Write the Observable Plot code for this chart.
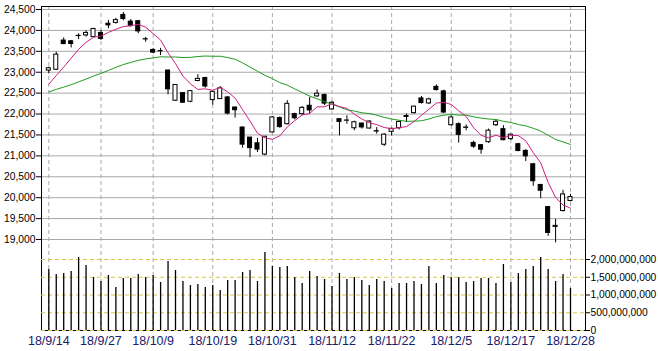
<!DOCTYPE html>
<html><head><meta charset="utf-8">
<script src="https://cdn.jsdelivr.net/npm/d3@7"></script>
<script src="https://cdn.jsdelivr.net/npm/@observablehq/plot@0.6"></script>
<style>
html,body{margin:0;padding:0;background:#fff;}
#wrap{position:relative;width:658px;height:351px;overflow:hidden;}
#wrap svg{position:absolute;left:0;}
#wrap svg text{font-family:'Liberation Sans',Arial,sans-serif;font-size:10.3px;fill:#000;}
#wrap svg [aria-label^="x-axis"] text{font-family:'Liberation Sans',Arial,sans-serif;font-size:12.5px;fill:#17206b;}
</style>
</head><body><div id="wrap"></div>
<script>
const dates = ["18/9/14","18/9/18","18/9/19","18/9/20","18/9/21","18/9/25","18/9/26","18/9/27","18/9/28",
"18/10/1","18/10/2","18/10/3","18/10/4","18/10/5","18/10/9","18/10/10","18/10/11","18/10/12","18/10/15","18/10/16","18/10/17","18/10/18","18/10/19","18/10/22","18/10/23","18/10/24","18/10/25","18/10/26","18/10/29","18/10/30","18/10/31",
"18/11/1","18/11/2","18/11/5","18/11/6","18/11/7","18/11/8","18/11/9","18/11/12","18/11/13","18/11/14","18/11/15","18/11/16","18/11/19","18/11/20","18/11/21","18/11/22","18/11/26","18/11/27","18/11/28","18/11/29","18/11/30",
"18/12/3","18/12/4","18/12/5","18/12/6","18/12/7","18/12/10","18/12/11","18/12/12","18/12/13","18/12/14","18/12/17","18/12/18","18/12/19","18/12/20","18/12/21","18/12/25","18/12/26","18/12/27","18/12/28"];

const opens = [23040,23060,23757,23740,23865,23880,23840,23940,24160,24180,24370,24210,24220,23790,23533,23500,23040,22318,22500,22294,22790,22862,22334,22358,22397,22157,21678,21437,21300,21030,21560,21903,21757,21997,21997,22198,22422,22454,22110,21877,21840,21660,21773,21654,21590,21266,21575,21662,21930,22021,22373,22253,22650,22542,21733,21757,21670,21310,21256,21327,21733,21638,21400,21279,21119,20799,20304,19776,19300,19680,19920];
const highs = [23120,23480,23820,23760,23920,23990,24050,24000,24240,24290,24430,24260,24240,23836,23560,23572,23050,22700,22510,22560,22941,22880,22545,22660,22420,22160,21690,21440,21420,21460,21940,21930,22320,22020,22180,22400,22574,22480,22300,21880,21958,21830,21780,21840,21677,21530,21660,21830,22000,22190,22420,22380,22700,22570,21960,21790,21740,21350,21270,21640,21860,21720,21520,21300,21150,20820,20320,19790,19481,20176,20080];
const lows = [22960,23040,23660,23580,23780,23840,23830,23760,24040,24150,24230,24080,23920,23716,23440,23397,22460,22300,22260,22270,22770,22620,22215,22350,21980,21903,21184,20958,21080,21000,21550,21660,21740,21860,21960,22000,22400,22200,22090,21478,21758,21600,21640,21640,21520,21222,21478,21620,21797,22000,22240,22230,22550,22010,21710,21304,21600,21180,21040,21300,21700,21360,21370,21100,20862,20272,19975,19077,18920,19660,19900];
const closes = [23095,23421,23673,23675,23870,23940,24034,23797,24120,24246,24271,24111,23976,23784,23469,23506,22591,22695,22271,22549,22841,22658,22532,22615,22011,22091,21269,21185,21150,21457,21920,21688,22244,21899,22148,22086,22487,22250,22270,21811,21846,21804,21680,21821,21583,21508,21647,21812,21952,22177,22263,22351,22575,22036,21919,21502,21679,21220,21148,21603,21816,21375,21507,21115,20988,20393,20166,19156,19327,20078,20015];
const volumes = [1718000000,1578000000,1606000000,1662000000,2056000000,1831000000,1493000000,1380000000,1549000000,1211000000,1465000000,1465000000,1578000000,1493000000,1549000000,1352000000,1944000000,1690000000,1380000000,1268000000,1296000000,1211000000,1268000000,1127000000,1409000000,1409000000,1634000000,1690000000,1380000000,2197000000,1803000000,1775000000,1803000000,1493000000,1324000000,1662000000,1521000000,1437000000,1239000000,1606000000,1437000000,1493000000,1409000000,1268000000,1437000000,1380000000,1183000000,1324000000,1324000000,1380000000,1296000000,1803000000,1324000000,1549000000,1493000000,1493000000,1352000000,1380000000,1465000000,1465000000,1324000000,1859000000,1352000000,1606000000,1718000000,1803000000,2056000000,1718000000,1380000000,1578000000,1183000000];
const ma5 = [22712,22921,23123,23337,23547,23716,23838,23863,23952,24027,24093,24109,24145,24077,23922,23769,23465,23209,22907,22722,22589,22603,22570,22639,22531,22381,22104,21834,21541,21430,21396,21480,21692,21842,21980,22013,22173,22174,22248,22181,22133,21996,21882,21792,21747,21679,21648,21674,21700,21819,21970,22111,22264,22280,22229,22077,21942,21671,21493,21430,21493,21432,21490,21483,21360,21076,20834,20364,20006,19824,19748];
const ma25 = [22528,22590,22643,22702,22769,22836,22909,22972,23043,23116,23183,23235,23282,23319,23343,23369,23364,23364,23352,23355,23376,23387,23382,23382,23350,23310,23224,23124,23023,22927,22846,22752,22690,22601,22517,22430,22365,22296,22235,22169,22102,22071,22030,22012,21974,21920,21880,21851,21825,21831,21838,21881,21937,21973,21991,21974,21974,21933,21903,21881,21870,21826,21796,21750,21717,21659,21593,21492,21393,21332,21273];

const tickDates = ["18/9/14","18/9/27","18/10/9","18/10/19","18/10/31","18/11/12","18/11/22","18/12/5","18/12/17","18/12/28"];
const priceTicks = [19000,19500,20000,20500,21000,21500,22000,22500,23000,23500,24000,24500];
const volumeTicks = [0,500000000,1000000000,1500000000,2000000000];

const data = dates.map((date, i) => ({i, date, open: opens[i], high: highs[i], low: lows[i], close: closes[i], volume: volumes[i], ma5: ma5[i], ma25: ma25[i]}));
const up = data.filter(d => d.close >= d.open);
const down = data.filter(d => d.close < d.open);
const tickIdx = tickDates.map(t => dates.indexOf(t));
const X = {type: "linear", domain: [0, dates.length - 1], range: [48.3, 570]};
const fmt = d3.format(",");
const hw = 0.27;

const price = Plot.plot({
  width: 658, height: 330, marginTop: 6, marginRight: 73, marginBottom: 0, marginLeft: 41,
  style: {background: "transparent", overflow: "visible"},
  x: {...X, axis: null},
  y: {domain: [19000, 24500], range: [239, 9], ticks: priceTicks, tickFormat: fmt, tickSize: 5, tickPadding: 1, label: null},
  marks: [
    Plot.ruleY(priceTicks, {stroke: "#a8a8a8"}),
    Plot.ruleX(tickIdx, {stroke: "#a8a8a8", strokeDasharray: "4,3"}),
    Plot.frame({stroke: "black"}),
    Plot.ruleX(data, {x: "i", y1: "low", y2: "high", stroke: "black"}),
    Plot.rect(down, {x1: d => d.i - hw, x2: d => d.i + hw, y1: "open", y2: "close", fill: "black", stroke: "black"}),
    Plot.rect(up, {x1: d => d.i - hw, x2: d => d.i + hw, y1: "open", y2: "close", fill: "white", stroke: "black"}),
    Plot.line(data, {x: "i", y: "ma25", stroke: "#1f9a1f", strokeWidth: 1}),
    Plot.line(data, {x: "i", y: "ma5", stroke: "#cc1f80", strokeWidth: 1})
  ]
});
price.style.top = "0px";

const vol = Plot.plot({
  width: 658, height: 101, marginTop: 0, marginRight: 73, marginBottom: 21, marginLeft: 41,
  style: {background: "transparent", overflow: "visible"},
  x: {...X, ticks: tickIdx, tickFormat: i => dates[i], tickSize: 0, tickPadding: 6, label: null},
  y: {domain: [0, 2000000000], range: [80, 9], axis: "right", ticks: volumeTicks, tickFormat: fmt, tickSize: 4, tickPadding: 1, label: null},
  marks: [
    Plot.ruleY(volumeTicks, {stroke: "#d8c84a", strokeDasharray: "4,3"}),
    Plot.ruleX(data, {x: "i", y: "volume", stroke: "black", strokeWidth: 1.3})
  ]
});
vol.style.top = "250px";

const wrap = document.getElementById("wrap");
wrap.appendChild(price);
wrap.appendChild(vol);
</script>
</body></html>
